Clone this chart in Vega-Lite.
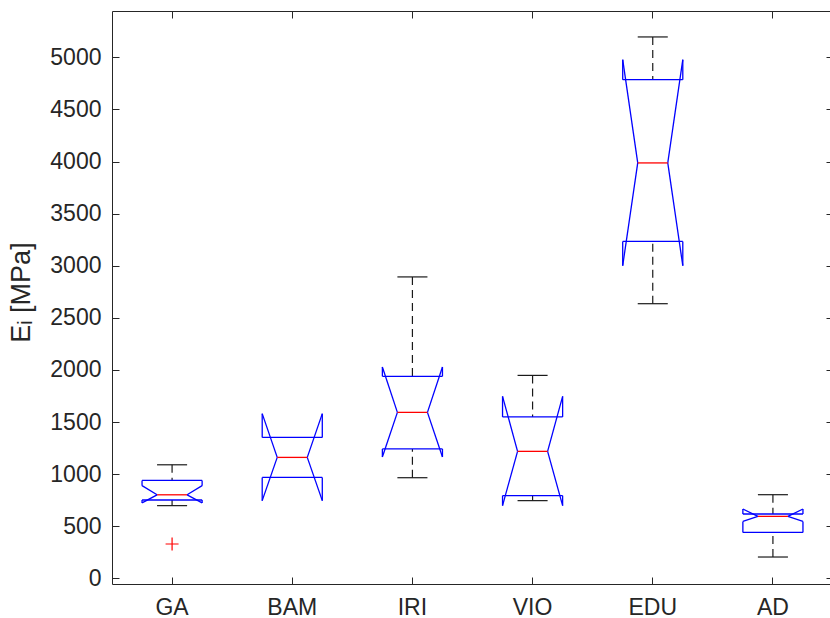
{
  "$schema": "https://vega.github.io/schema/vega-lite/v6.json",
  "autosize": {"type": "none"},
  "padding": {"left": 112, "top": 11, "right": 0, "bottom": 34},
  "width": 721,
  "height": 573,
  "background": "white",
  "config": {
    "view": {"stroke": null},
    "font": "Liberation Sans",
    "axis": {"grid": false, "domainColor": "#262626", "tickColor": "#262626", "labelColor": "#262626", "titleColor": "#262626", "domainWidth": 1, "tickWidth": 1}
  },
  "datasets": {
    "stats": [
      {"group": "GA", "lo": 698, "q1": 752, "nlo": 724, "med": 802, "nhi": 890, "q3": 940, "hi": 1090},
      {"group": "BAM", "lo": null, "q1": 969, "nlo": 746, "med": 1161, "nhi": 1581, "q3": 1353, "hi": null},
      {"group": "IRI", "lo": 966, "q1": 1242, "nlo": 1165, "med": 1593, "nhi": 2029, "q3": 1939, "hi": 2893},
      {"group": "VIO", "lo": 746, "q1": 794, "nlo": 698, "med": 1219, "nhi": 1747, "q3": 1549, "hi": 1948},
      {"group": "EDU", "lo": 2636, "q1": 3234, "nlo": 3001, "med": 3987, "nhi": 4978, "q3": 4786, "hi": 5196},
      {"group": "AD", "lo": 205, "q1": 441, "nlo": 547, "med": 595, "nhi": 666, "q3": 618, "hi": 803}
    ],
    "outliers": [
      {"group": "GA", "value": 330}
    ]
  },
  "data": {"name": "stats"},
  "resolve": {"axis": {"x": "independent", "y": "independent"}},
  "layer": [
    {
      "transform": [{"filter": "datum.hi != null"}],
      "mark": {"type": "rule", "color": "#1a1a1a", "strokeWidth": 1.2, "strokeDash": [8, 5]},
      "encoding": {
        "x": {"field": "group", "type": "nominal", "bandPosition": 0.5, "scale": {"type": "band", "domain": ["GA", "BAM", "IRI", "VIO", "EDU", "AD"], "paddingInner": 0, "paddingOuter": 0}, "axis": null},
        "y": {"field": "hi", "type": "quantitative", "scale": {"domain": [-54, 5445], "nice": false, "zero": false}, "axis": null},
        "y2": {"field": "q3"}
      }
    },
    {
      "transform": [{"filter": "datum.lo != null"}],
      "mark": {"type": "rule", "color": "#1a1a1a", "strokeWidth": 1.2, "strokeDash": [8, 5]},
      "encoding": {
        "x": {"field": "group", "type": "nominal", "bandPosition": 0.5, "scale": {"type": "band", "domain": ["GA", "BAM", "IRI", "VIO", "EDU", "AD"], "paddingInner": 0, "paddingOuter": 0}, "axis": null},
        "y": {"field": "lo", "type": "quantitative", "scale": {"domain": [-54, 5445], "nice": false, "zero": false}, "axis": null},
        "y2": {"field": "q1"}
      }
    },
    {
      "transform": [{"filter": "datum.hi != null"}],
      "mark": {"type": "rule", "color": "#1a1a1a", "strokeWidth": 1.2},
      "encoding": {
        "x": {"field": "group", "type": "nominal", "bandPosition": 0.375, "scale": {"type": "band", "domain": ["GA", "BAM", "IRI", "VIO", "EDU", "AD"], "paddingInner": 0, "paddingOuter": 0}, "axis": null},
        "x2": {"field": "group", "bandPosition": 0.625},
        "y": {"field": "hi", "type": "quantitative", "scale": {"domain": [-54, 5445], "nice": false, "zero": false}, "axis": null}
      }
    },
    {
      "transform": [{"filter": "datum.lo != null"}],
      "mark": {"type": "rule", "color": "#1a1a1a", "strokeWidth": 1.2},
      "encoding": {
        "x": {"field": "group", "type": "nominal", "bandPosition": 0.375, "scale": {"type": "band", "domain": ["GA", "BAM", "IRI", "VIO", "EDU", "AD"], "paddingInner": 0, "paddingOuter": 0}, "axis": null},
        "x2": {"field": "group", "bandPosition": 0.625},
        "y": {"field": "lo", "type": "quantitative", "scale": {"domain": [-54, 5445], "nice": false, "zero": false}, "axis": null}
      }
    },
    {
      "mark": {"type": "rule", "color": "#0000ff", "strokeWidth": 1.3},
      "encoding": {
        "x": {"field": "group", "type": "nominal", "bandPosition": 0.25, "scale": {"type": "band", "domain": ["GA", "BAM", "IRI", "VIO", "EDU", "AD"], "paddingInner": 0, "paddingOuter": 0},
          "axis": {"orient": "bottom", "title": null, "labelAngle": 0, "labelFontSize": 23, "labelPadding": 19, "tickSize": -7, "bandPosition": 0.5, "labelFont": "Liberation Sans"}},
        "x2": {"field": "group", "bandPosition": 0.75},
        "y": {"field": "q1", "type": "quantitative", "scale": {"domain": [-54, 5445], "nice": false, "zero": false},
          "axis": {"orient": "left", "values": [0, 500, 1000, 1500, 2000, 2500, 3000, 3500, 4000, 4500, 5000], "format": "d", "labelFontSize": 23, "labelPadding": 18, "tickSize": -7, "labelFont": "Liberation Sans",
            "title": "Eᵢ [MPa]", "titleFont": "Liberation Sans", "titleFontSize": 27, "titleFontWeight": "normal", "titleAngle": -90, "titleX": -91, "titleY": 281, "titleAlign": "center", "titleBaseline": "middle"}}
      }
    },
    {
      "mark": {"type": "rule", "color": "#0000ff", "strokeWidth": 1.3},
      "encoding": {
        "x": {"field": "group", "type": "nominal", "bandPosition": 0.25, "scale": {"type": "band", "domain": ["GA", "BAM", "IRI", "VIO", "EDU", "AD"], "paddingInner": 0, "paddingOuter": 0}, "axis": null},
        "x2": {"field": "group", "bandPosition": 0.75},
        "y": {"field": "q3", "type": "quantitative", "scale": {"domain": [-54, 5445], "nice": false, "zero": false}, "axis": null}
      }
    },
    {
      "mark": {"type": "rule", "color": "#0000ff", "strokeWidth": 1.3},
      "encoding": {
        "x": {"field": "group", "type": "nominal", "bandPosition": 0.25, "scale": {"type": "band", "domain": ["GA", "BAM", "IRI", "VIO", "EDU", "AD"], "paddingInner": 0, "paddingOuter": 0}, "axis": null},
        "y": {"field": "q1", "type": "quantitative", "scale": {"domain": [-54, 5445], "nice": false, "zero": false}, "axis": null},
        "y2": {"field": "nlo"}
      }
    },
    {
      "mark": {"type": "rule", "color": "#0000ff", "strokeWidth": 1.3},
      "encoding": {
        "x": {"field": "group", "type": "nominal", "bandPosition": 0.75, "scale": {"type": "band", "domain": ["GA", "BAM", "IRI", "VIO", "EDU", "AD"], "paddingInner": 0, "paddingOuter": 0}, "axis": null},
        "y": {"field": "q1", "type": "quantitative", "scale": {"domain": [-54, 5445], "nice": false, "zero": false}, "axis": null},
        "y2": {"field": "nlo"}
      }
    },
    {
      "mark": {"type": "rule", "color": "#0000ff", "strokeWidth": 1.3},
      "encoding": {
        "x": {"field": "group", "type": "nominal", "bandPosition": 0.25, "scale": {"type": "band", "domain": ["GA", "BAM", "IRI", "VIO", "EDU", "AD"], "paddingInner": 0, "paddingOuter": 0}, "axis": null},
        "y": {"field": "q3", "type": "quantitative", "scale": {"domain": [-54, 5445], "nice": false, "zero": false}, "axis": null},
        "y2": {"field": "nhi"}
      }
    },
    {
      "mark": {"type": "rule", "color": "#0000ff", "strokeWidth": 1.3},
      "encoding": {
        "x": {"field": "group", "type": "nominal", "bandPosition": 0.75, "scale": {"type": "band", "domain": ["GA", "BAM", "IRI", "VIO", "EDU", "AD"], "paddingInner": 0, "paddingOuter": 0}, "axis": null},
        "y": {"field": "q3", "type": "quantitative", "scale": {"domain": [-54, 5445], "nice": false, "zero": false}, "axis": null},
        "y2": {"field": "nhi"}
      }
    },
    {
      "mark": {"type": "rule", "color": "#0000ff", "strokeWidth": 1.3},
      "encoding": {
        "x": {"field": "group", "type": "nominal", "bandPosition": 0.25, "scale": {"type": "band", "domain": ["GA", "BAM", "IRI", "VIO", "EDU", "AD"], "paddingInner": 0, "paddingOuter": 0}, "axis": null},
        "x2": {"field": "group", "bandPosition": 0.375},
        "y": {"field": "nlo", "type": "quantitative", "scale": {"domain": [-54, 5445], "nice": false, "zero": false}, "axis": null},
        "y2": {"field": "med"}
      }
    },
    {
      "mark": {"type": "rule", "color": "#0000ff", "strokeWidth": 1.3},
      "encoding": {
        "x": {"field": "group", "type": "nominal", "bandPosition": 0.25, "scale": {"type": "band", "domain": ["GA", "BAM", "IRI", "VIO", "EDU", "AD"], "paddingInner": 0, "paddingOuter": 0}, "axis": null},
        "x2": {"field": "group", "bandPosition": 0.375},
        "y": {"field": "nhi", "type": "quantitative", "scale": {"domain": [-54, 5445], "nice": false, "zero": false}, "axis": null},
        "y2": {"field": "med"}
      }
    },
    {
      "mark": {"type": "rule", "color": "#0000ff", "strokeWidth": 1.3},
      "encoding": {
        "x": {"field": "group", "type": "nominal", "bandPosition": 0.75, "scale": {"type": "band", "domain": ["GA", "BAM", "IRI", "VIO", "EDU", "AD"], "paddingInner": 0, "paddingOuter": 0}, "axis": null},
        "x2": {"field": "group", "bandPosition": 0.625},
        "y": {"field": "nlo", "type": "quantitative", "scale": {"domain": [-54, 5445], "nice": false, "zero": false}, "axis": null},
        "y2": {"field": "med"}
      }
    },
    {
      "mark": {"type": "rule", "color": "#0000ff", "strokeWidth": 1.3},
      "encoding": {
        "x": {"field": "group", "type": "nominal", "bandPosition": 0.75, "scale": {"type": "band", "domain": ["GA", "BAM", "IRI", "VIO", "EDU", "AD"], "paddingInner": 0, "paddingOuter": 0}, "axis": null},
        "x2": {"field": "group", "bandPosition": 0.625},
        "y": {"field": "nhi", "type": "quantitative", "scale": {"domain": [-54, 5445], "nice": false, "zero": false}, "axis": null},
        "y2": {"field": "med"}
      }
    },
    {
      "mark": {"type": "rule", "color": "#ff0000", "strokeWidth": 1.3},
      "encoding": {
        "x": {"field": "group", "type": "nominal", "bandPosition": 0.375, "scale": {"type": "band", "domain": ["GA", "BAM", "IRI", "VIO", "EDU", "AD"], "paddingInner": 0, "paddingOuter": 0},
          "axis": {"orient": "top", "title": null, "labels": false, "tickSize": -7, "bandPosition": 0.5}},
        "x2": {"field": "group", "bandPosition": 0.625},
        "y": {"field": "med", "type": "quantitative", "scale": {"domain": [-54, 5445], "nice": false, "zero": false},
          "axis": {"orient": "right", "values": [0, 500, 1000, 1500, 2000, 2500, 3000, 3500, 4000, 4500, 5000], "labels": false, "title": null, "tickSize": -7}}
      }
    },
    {
      "data": {"name": "outliers"},
      "mark": {"type": "point", "shape": "M-1,0H1M0,-1V1", "filled": false, "color": "#ff0000", "strokeWidth": 1.2, "size": 169, "opacity": 1},
      "encoding": {
        "x": {"field": "group", "type": "nominal", "scale": {"type": "band", "domain": ["GA", "BAM", "IRI", "VIO", "EDU", "AD"], "paddingInner": 0, "paddingOuter": 0}, "axis": null},
        "y": {"field": "value", "type": "quantitative", "scale": {"domain": [-54, 5445], "nice": false, "zero": false}, "axis": null}
      }
    }
  ]
}
